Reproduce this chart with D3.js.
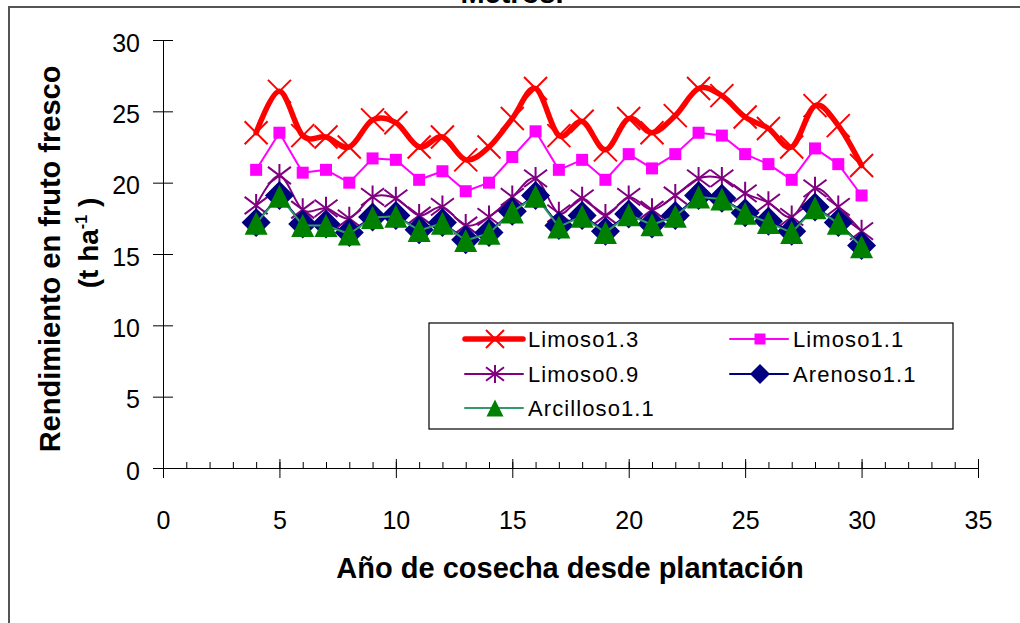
<!DOCTYPE html>
<html><head><meta charset="utf-8">
<script src="https://cdn.jsdelivr.net/npm/d3@7"></script>
<style>
body{margin:0;background:#fff}
svg{display:block}
text{font-family:"Liberation Sans",Arial,sans-serif;fill:#000}
</style>
</head><body>
<svg id="c" width="1020" height="623"></svg>
<script>
// ---- data ----
const years = [4,5,6,7,8,9,10,11,12,13,14,15,16,17,18,19,20,21,22,23,24,25,26,27,28,29,30];
const limoso13 = [23.5,26.4,23.3,23.2,22.5,24.4,24.2,22.5,23.2,21.6,22.5,24.5,26.6,23.3,24.3,22.3,24.5,23.5,24.7,26.6,26.1,24.6,23.8,22.5,25.4,24.0,21.2];
const limoso11 = [20.9,23.5,20.7,20.9,20.0,21.7,21.6,20.2,20.8,19.4,20.0,21.8,23.6,20.9,21.6,20.2,22.0,21.0,22.0,23.5,23.3,22.0,21.3,20.2,22.4,21.3,19.1];
const limoso09 = [18.4,20.5,18.1,18.2,17.5,19.0,18.9,17.7,18.3,17.0,17.6,19.0,20.3,17.85,18.9,17.7,19.0,18.1,19.1,20.3,20.3,19.25,18.6,17.6,19.6,18.3,16.6];
const arenoso11 = [17.2,19.1,17.1,17.1,16.5,17.6,17.7,16.7,17.2,16.0,16.5,18.0,19.1,17.0,17.7,16.6,17.8,17.1,17.7,19.1,18.9,17.9,17.3,16.6,18.3,17.2,15.6];
const arcilloso11 = [17.15,19.05,17.0,17.0,16.4,17.55,17.65,16.65,17.15,15.95,16.45,17.95,19.05,16.9,17.65,16.5,17.75,17.05,17.65,19.0,18.85,17.85,17.2,16.5,18.25,17.15,15.5];
const xTicks = [0,5,10,15,20,25,30,35];
const xMinor = [0,1,2,3,4,5,6,7,8,9,10,11,12,13,14,15,16,17,18,19,20,21,22,23,24,25,26,27,28,29,30,31,32,33,34,35];
const yTicks = [0,5,10,15,20,25,30];
const seriesNames = ["Limoso1.3","Limoso1.1","Limoso0.9","Arenoso1.1","Arcilloso1.1"];

const series = [
  {name:seriesNames[0], values:limoso13, color:"#FF0000", lineColor:"#FF0000", width:5.5, smooth:true, marker:"x", size:23, lsize:18},
  {name:seriesNames[1], values:limoso11, color:"#FF00FF", lineColor:"#FF00FF", width:2, smooth:false, marker:"square", size:12, lsize:11},
  {name:seriesNames[2], values:limoso09, color:"#800080", lineColor:"#800080", width:2, smooth:true, marker:"star", size:23, lsize:18},
  {name:seriesNames[3], values:arenoso11, color:"#000080", lineColor:"#000080", width:2, smooth:false, marker:"diamond", size:29, lsize:20},
  {name:seriesNames[4], values:arcilloso11, color:"#008000", lineColor:"#339966", width:2, smooth:false, marker:"triangle", size:23, lsize:17}
];

const svg = d3.select("#c");
svg.append("rect").attr("width",1020).attr("height",623).attr("fill","#fff");
svg.append("rect").attr("x",9).attr("y",7).attr("width",1040).attr("height",700)
  .attr("fill","none").attr("stroke","#555").attr("stroke-width",2);
svg.append("text").attr("x",512).attr("y",3).attr("text-anchor","middle")
  .attr("font-weight","bold").attr("font-size",29).text("Metros.");

const x = d3.scaleLinear().domain([0,35]).range([163,978]);
const y = d3.scaleLinear().domain([0,30]).range([468,40]);

// y axis
const gy = svg.append("g").attr("transform","translate(163,0)")
  .call(d3.axisLeft(y).tickValues(yTicks).tickSize(10).tickSizeOuter(0).tickPadding(13));
gy.selectAll(".tick line").attr("x1",10).attr("stroke","#000");
gy.select(".domain").attr("stroke","#000");
gy.selectAll(".tick text").attr("font-size",25).attr("font-family",null).attr("dy","0.45em");

// x axis minor
const gxm = svg.append("g").attr("transform","translate(0,468)")
  .call(d3.axisBottom(x).tickValues(xMinor).tickSize(-6).tickSizeOuter(0).tickFormat(""));
gxm.selectAll(".tick line").attr("stroke","#000");
gxm.select(".domain").attr("stroke","#000");
// x axis major
const gx = svg.append("g").attr("transform","translate(0,468)")
  .call(d3.axisBottom(x).tickValues(xTicks).tickSize(10).tickSizeOuter(0).tickPadding(33));
gx.select(".domain").remove();
gx.selectAll(".tick line").attr("y1",-9).attr("stroke","#000");
gx.selectAll(".tick text").attr("font-size",25).attr("font-family",null);

// axis titles
svg.append("text").attr("x",570).attr("y",578).attr("text-anchor","middle")
  .attr("font-weight","bold").attr("font-size",29).text("Año de cosecha desde plantación");
svg.append("text").attr("transform","translate(60,259) rotate(-90)").attr("text-anchor","middle")
  .attr("font-weight","bold").attr("font-size",29).text("Rendimiento en fruto fresco");
const t2 = svg.append("text").attr("transform","translate(98,243) rotate(-90)").attr("text-anchor","middle")
  .attr("font-weight","bold").attr("font-size",28);
t2.append("tspan").text("(t ha");
t2.append("tspan").attr("font-size",16).attr("dy",-11).text("-1");
t2.append("tspan").attr("dy",11).text(" )");

// markers
function drawMarker(g, type, cx, cy, s, color){
  const h = s/2;
  if(type==="x"){
    g.append("path").attr("d",`M${cx-h},${cy-h}L${cx+h},${cy+h}M${cx-h},${cy+h}L${cx+h},${cy-h}`)
      .attr("stroke",color).attr("stroke-width",2).attr("fill","none");
  } else if(type==="star"){
    const d = h*0.75;
    g.append("path").attr("d",`M${cx-h},${cy-d}L${cx+h},${cy+d}M${cx-h},${cy+d}L${cx+h},${cy-d}M${cx},${cy-h}L${cx},${cy+h}`)
      .attr("stroke",color).attr("stroke-width",2).attr("fill","none");
  } else if(type==="square"){
    g.append("rect").attr("x",cx-h).attr("y",cy-h).attr("width",s).attr("height",s).attr("fill",color);
  } else if(type==="diamond"){
    g.append("path").attr("d",`M${cx},${cy-h}L${cx+h},${cy}L${cx},${cy+h}L${cx-h},${cy}Z`).attr("fill",color);
  } else if(type==="triangle"){
    g.append("path").attr("d",`M${cx},${cy-h}L${cx+h},${cy+h}L${cx-h},${cy+h}Z`).attr("fill",color);
  }
}

const plot = svg.append("g");
series.forEach(s=>{
  const pts = years.map((yr,i)=>[x(yr), y(s.values[i])]);
  const line = d3.line().curve(s.smooth ? d3.curveCardinal.tension(0) : d3.curveLinear);
  const g = plot.append("g");
  g.append("path").attr("d",line(pts)).attr("fill","none")
    .attr("stroke",s.lineColor).attr("stroke-width",s.width).attr("stroke-linejoin","round").attr("stroke-linecap","round");
  pts.forEach(p=>drawMarker(g, s.marker, p[0], p[1], s.size, s.color));
});

// legend
const lg = svg.append("g");
lg.append("rect").attr("x",429).attr("y",323).attr("width",524).attr("height",106)
  .attr("fill","#fff").attr("stroke","#000").attr("stroke-width",1.2);
const legPos = [[465,339],[730,339],[465,374],[730,374],[465,408]];
series.forEach((s,i)=>{
  const [lx,ly] = legPos[i];
  lg.append("line").attr("x1",lx).attr("x2",lx+58).attr("y1",ly).attr("y2",ly)
    .attr("stroke",s.lineColor).attr("stroke-width",s.width).attr("stroke-linecap","round");
  drawMarker(lg, s.marker, lx+30, ly, s.lsize, s.color);
  lg.append("text").attr("x",lx+63).attr("y",ly+8).attr("font-size",22)
    .attr("letter-spacing","1.1px").text(s.name);
});
</script>
</body></html>
